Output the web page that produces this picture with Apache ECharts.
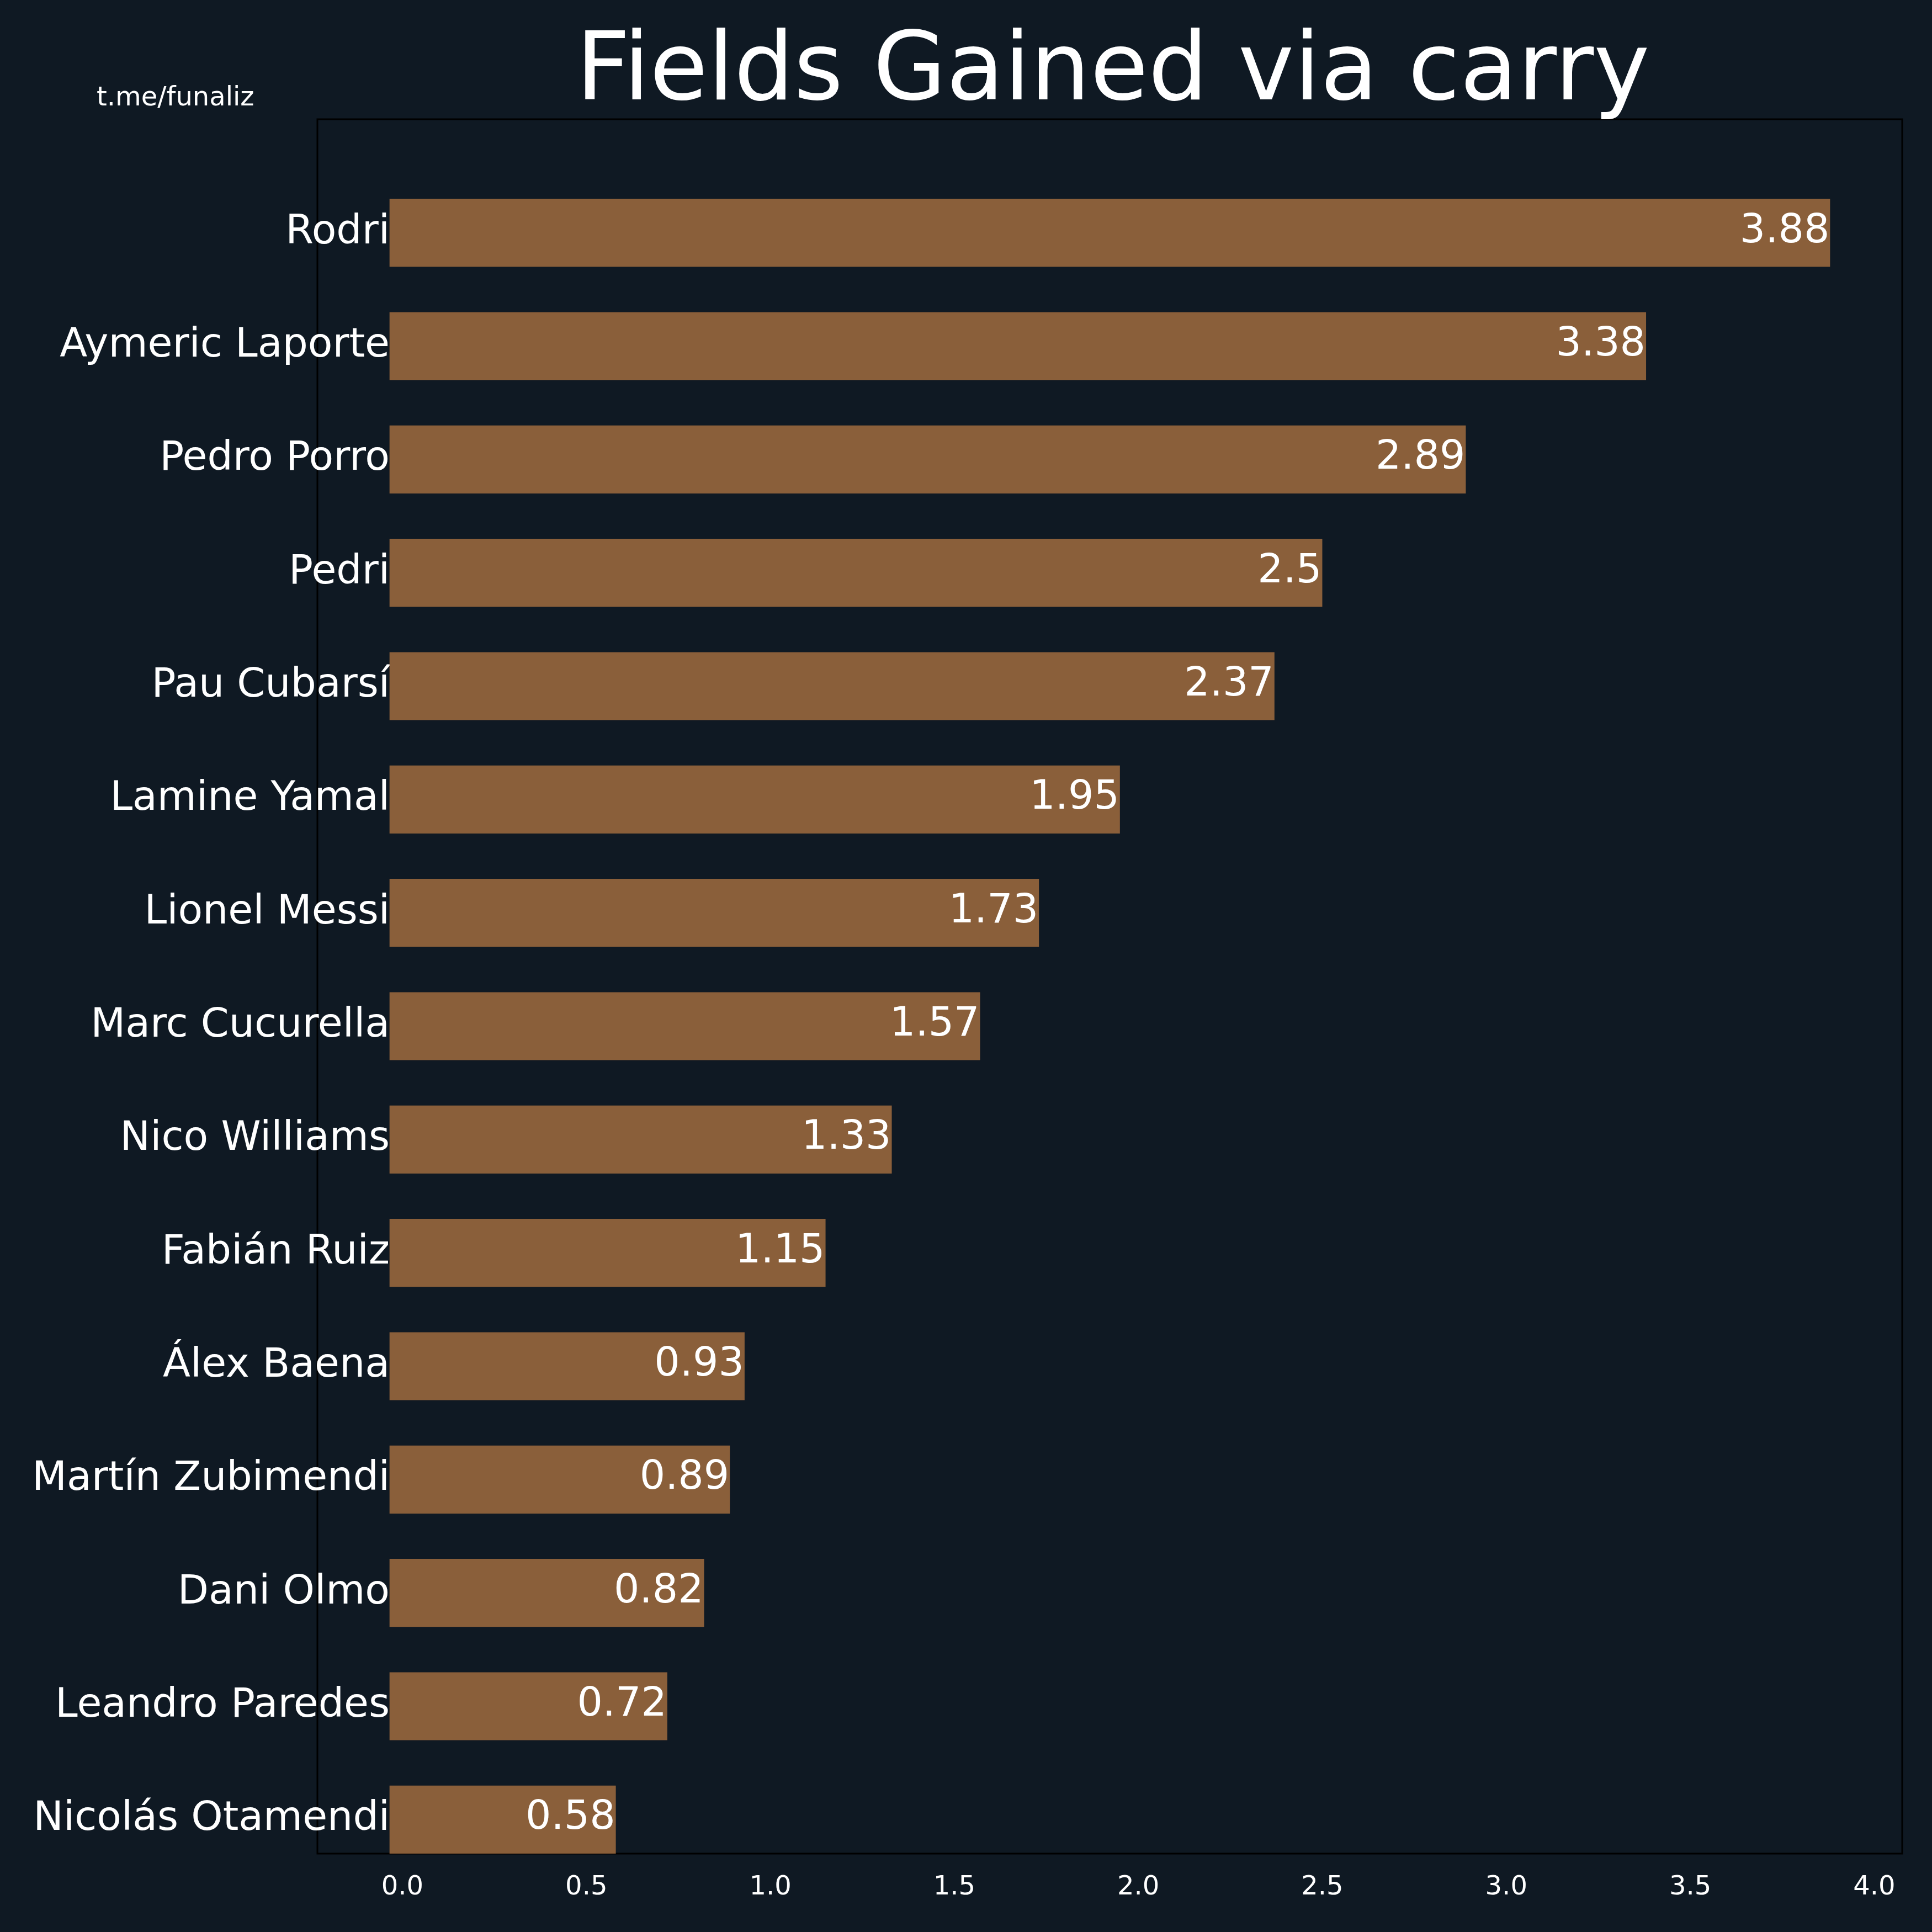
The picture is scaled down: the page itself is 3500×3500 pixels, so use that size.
<!DOCTYPE html>
<html>
<head>
<meta charset="utf-8">
<script src="https://cdn.jsdelivr.net/npm/echarts@6/dist/echarts.min.js"></script>
<style>
html,body{margin:0;padding:0;background:#0F1923;}
#chart{width:3500px;height:3500px;}
</style>
</head>
<body>
<div id="chart"></div>
<script>
// Data (top to bottom as shown)
const players = ["Rodri","Aymeric Laporte","Pedro Porro","Pedri","Pau Cubarsí","Lamine Yamal","Lionel Messi","Marc Cucurella","Nico Williams","Fabián Ruiz","Álex Baena","Martín Zubimendi","Dani Olmo","Leandro Paredes","Nicolás Otamendi"];
const fieldsGained = [3.88,3.38,2.89,2.5,2.37,1.95,1.73,1.57,1.33,1.15,0.93,0.89,0.82,0.72,0.58];
const xTicks = [0,0.5,1,1.5,2,2.5,3,3.5,4];
const titleText = "Fields Gained via carry";
const watermark = "t.me/funaliz";

const cats = players.slice().reverse();
const vals = fieldsGained.slice().reverse();

const font = "DejaVu Sans";
const barColor = '#8A5F3A';
const barBase = -0.035;   // bars in the original start slightly left of zero
const barFrac = 0.6;
const labelSize = 73;

const chart = echarts.init(document.getElementById('chart'), null, {renderer:'canvas'});
const xMin = -0.231, xMax = 4.076;
chart.setOption({
  backgroundColor: '#0F1923',
  animation: false,
  textStyle: {fontFamily: font},
  title: [
    {text: titleText, left: 2011, top: 45, textAlign: 'center',
     textStyle: {color: '#ffffff', fontSize: 171, fontWeight: 'normal', fontFamily: font}},
    {text: watermark, left: 170, top: 150,
     textStyle: {color: '#ffffff', fontSize: 48, fontWeight: 'normal', fontFamily: font}}
  ],
  grid: [
    {left: 575, right: 54, top: 216, bottom: 142, show: true, borderColor: '#000000', borderWidth: 3, backgroundColor: 'transparent'},
    {left: 575, right: 54, top: 319, bottom: 101}
  ],
  xAxis: [
    {gridIndex: 0, type: 'value', min: xMin, max: xMax,
     axisLine: {show: false}, axisTick: {show: false}, splitLine: {show: false},
     axisLabel: {color: '#ffffff', fontSize: 48, margin: 38, fontFamily: font,
       customValues: xTicks, formatter: v => v.toFixed(1)}},
    {gridIndex: 1, type: 'value', min: xMin, max: xMax, show: false}
  ],
  yAxis: [
    {gridIndex: 0, type: 'value', min: -0.3, max: 15, show: false},
    {gridIndex: 1, type: 'category', data: cats,
     axisLine: {show: false}, axisTick: {show: false}, splitLine: {show: false},
     axisLabel: {color: '#ffffff', fontSize: labelSize, margin: -131, fontFamily: font}}
  ],
  series: [{
    type: 'custom', xAxisIndex: 1, yAxisIndex: 1,
    data: vals.map((v, i) => [v, i]),
    encode: {x: 0, y: 1},
    renderItem: function (params, api) {
      const v = api.value(0), c = api.value(1);
      const s = api.coord([barBase, c]);
      const e = api.coord([v, c]);
      const h = api.size([0, 1])[1] * barFrac;
      return {type: 'group', children: [
        {type: 'rect', shape: {x: s[0], y: s[1] - h / 2, width: e[0] - s[0], height: h},
         style: {fill: barColor}},
        {type: 'text', style: {text: String(v), x: e[0] - 1, y: e[1] - 2, align: 'right', verticalAlign: 'middle',
         fill: '#ffffff', fontSize: labelSize, fontFamily: font}}
      ]};
    }
  }]
});
</script>
</body>
</html>
